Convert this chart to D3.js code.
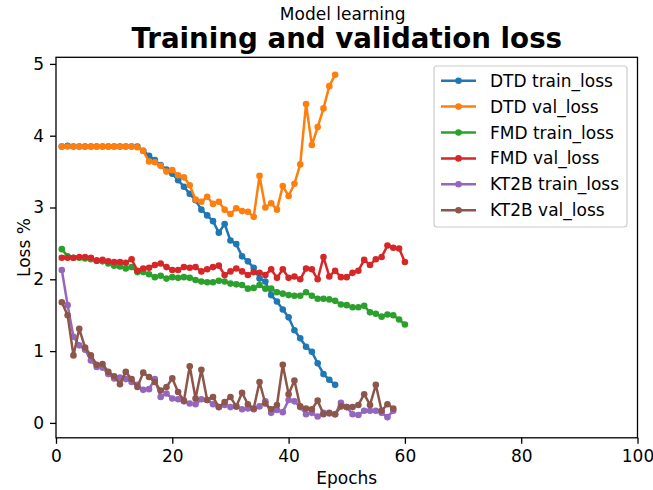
<!DOCTYPE html>
<html>
<head>
<meta charset="utf-8">
<script src="https://cdn.jsdelivr.net/npm/d3@7"></script>
<style>
  html, body { margin: 0; padding: 0; background: #ffffff; }
  svg { display: block; font-family: "DejaVu Sans", sans-serif; }
</style>
</head>
<body>
<svg id="chart" width="653" height="490"></svg>
<script>
// Loss per epoch for each dataset (train / validation)
const dtdTrain = [3.85, 3.86, 3.85, 3.85, 3.85, 3.85, 3.85, 3.85, 3.85, 3.85, 3.85, 3.85, 3.85,
  3.85, 3.79, 3.72, 3.66, 3.59, 3.53, 3.47, 3.38, 3.29, 3.19, 3.10, 2.97, 2.89, 2.81, 2.65,
  2.77, 2.54, 2.49, 2.32, 2.25, 2.16, 2.01, 1.97, 1.78, 1.69, 1.58, 1.47, 1.29, 1.18, 1.06,
  0.99, 0.83, 0.68, 0.60, 0.53];
const dtdVal = [3.85, 3.85, 3.85, 3.85, 3.85, 3.85, 3.85, 3.85, 3.85, 3.85, 3.85, 3.85, 3.85,
  3.84, 3.79, 3.64, 3.63, 3.58, 3.50, 3.52, 3.45, 3.42, 3.31, 3.11, 3.08, 3.15, 3.05, 3.08,
  2.97, 2.91, 2.99, 2.95, 2.94, 2.87, 3.44, 3.00, 3.06, 2.97, 3.30, 3.16, 3.33, 3.60, 4.44,
  3.87, 4.12, 4.38, 4.69, 4.85];
const fmdTrain = [2.42, 2.32, 2.30, 2.30, 2.29, 2.28, 2.26, 2.25, 2.22, 2.19, 2.18, 2.15, 2.17,
  2.10, 2.10, 2.07, 2.03, 2.05, 2.01, 2.03, 2.02, 2.03, 2.02, 1.99, 1.97, 1.96, 1.96, 1.98,
  1.97, 1.94, 1.93, 1.92, 1.87, 1.88, 1.92, 1.87, 1.87, 1.82, 1.80, 1.78, 1.77, 1.77, 1.82,
  1.77, 1.73, 1.73, 1.72, 1.70, 1.65, 1.64, 1.61, 1.61, 1.63, 1.54, 1.52, 1.48, 1.51, 1.50,
  1.44, 1.37];
const fmdVal = [2.30, 2.30, 2.30, 2.31, 2.31, 2.30, 2.26, 2.27, 2.25, 2.24, 2.24, 2.23, 2.28,
  2.12, 2.15, 2.16, 2.20, 2.22, 2.17, 2.13, 2.13, 2.17, 2.16, 2.17, 2.11, 2.14, 2.17, 2.19,
  2.06, 2.11, 2.15, 2.11, 2.06, 2.10, 2.09, 2.06, 2.14, 2.02, 2.14, 2.02, 2.04, 2.00, 2.15,
  2.14, 2.00, 2.31, 2.04, 2.12, 2.03, 2.03, 2.09, 2.12, 2.27, 2.20, 2.28, 2.31, 2.47, 2.44,
  2.43, 2.24];
const kt2bTrain = [2.13, 1.64, 1.20, 1.08, 1.02, 0.87, 0.78, 0.77, 0.68, 0.62, 0.63, 0.61, 0.57,
  0.53, 0.46, 0.47, 0.61, 0.36, 0.41, 0.34, 0.33, 0.30, 0.27, 0.26, 0.33, 0.32, 0.26, 0.22,
  0.25, 0.22, 0.23, 0.19, 0.20, 0.19, 0.23, 0.30, 0.14, 0.18, 0.15, 0.32, 0.30, 0.22, 0.12,
  0.14, 0.09, 0.14, 0.13, 0.12, 0.28, 0.22, 0.12, 0.11, 0.17, 0.17, 0.17, 0.14, 0.08, 0.17];
const kt2bVal = [1.68, 1.50, 0.94, 1.31, 1.05, 0.94, 0.81, 0.82, 0.71, 0.65, 0.54, 0.71, 0.61,
  0.50, 0.70, 0.64, 0.57, 0.45, 0.50, 0.62, 0.43, 0.31, 0.79, 0.34, 0.74, 0.32, 0.36, 0.22,
  0.29, 0.36, 0.23, 0.42, 0.26, 0.20, 0.57, 0.27, 0.19, 0.25, 0.81, 0.40, 0.59, 0.23, 0.20,
  0.19, 0.31, 0.12, 0.14, 0.12, 0.23, 0.22, 0.22, 0.25, 0.40, 0.25, 0.53, 0.17, 0.26, 0.20];

const seriesNames = ["DTD train_loss", "DTD val_loss", "FMD train_loss", "FMD val_loss",
  "KT2B train_loss", "KT2B val_loss"];
const seriesValues = [dtdTrain, dtdVal, fmdTrain, fmdVal, kt2bTrain, kt2bVal];
const seriesColors = ["#1f77b4", "#ff7f0e", "#2ca02c", "#d62728", "#9467bd", "#8c564b"];

const xTicks = [0, 20, 40, 60, 80, 100];
const yTicks = [0, 1, 2, 3, 4, 5];

const suptitleText = "Model learning";
const titleText = "Training and validation loss";
const xLabelText = "Epochs";
const yLabelText = "Loss %";

// Plot geometry
const plot = { left: 56, right: 637.5, top: 57.3, bottom: 437.8 };
const FS = 17;

const svg = d3.select("#chart");

const x = d3.scaleLinear().domain([0, 100]).range([plot.left, plot.right]);
const y = d3.scaleLinear().domain([-0.2075, 5.092]).range([plot.bottom, plot.top]);

// Titles
svg.append("text")
  .attr("x", (plot.left + plot.right) / 2 - 4).attr("y", 19.5)
  .attr("text-anchor", "middle").attr("font-size", FS).attr("fill", "#000")
  .text(suptitleText);
svg.append("text")
  .attr("x", (plot.left + plot.right) / 2).attr("y", 48)
  .attr("text-anchor", "middle").attr("font-size", 27.7).attr("font-weight", "bold")
  .attr("fill", "#000")
  .text(titleText);

// Clip to the axes area
svg.append("defs").append("clipPath").attr("id", "plot-clip")
  .append("rect")
  .attr("x", plot.left).attr("y", plot.top)
  .attr("width", plot.right - plot.left).attr("height", plot.bottom - plot.top);

const lineGen = d3.line()
  .x(d => x(d.epoch))
  .y(d => y(d.value));

const plotLayer = svg.append("g").attr("clip-path", "url(#plot-clip)");

seriesValues.forEach((values, i) => {
  const pts = values.map((v, j) => ({ epoch: j + 1, value: v }));
  const g = plotLayer.append("g");
  g.append("path")
    .datum(pts)
    .attr("d", lineGen)
    .attr("fill", "none")
    .attr("stroke", seriesColors[i])
    .attr("stroke-width", 2.5)
    .attr("stroke-linejoin", "round")
    .attr("stroke-linecap", "square");
  g.selectAll("circle")
    .data(pts)
    .join("circle")
    .attr("cx", d => x(d.epoch))
    .attr("cy", d => y(d.value))
    .attr("r", 3.3)
    .attr("fill", seriesColors[i]);
});

// Axes
const xAxis = d3.axisBottom(x).tickValues(xTicks).tickSize(6).tickPadding(6)
  .tickFormat(d3.format("d"));
const yAxis = d3.axisLeft(y).tickValues(yTicks).tickSize(6).tickPadding(6)
  .tickFormat(d3.format("d"));

const gx = svg.append("g").attr("transform", `translate(0,${plot.bottom})`).call(xAxis);
const gy = svg.append("g").attr("transform", `translate(${plot.left},0)`).call(yAxis);
[gx, gy].forEach(g => {
  g.select(".domain").remove();
  g.selectAll(".tick line").attr("stroke", "#000").attr("stroke-width", 1.3);
  g.selectAll(".tick text").attr("font-size", FS).attr("fill", "#000")
    .attr("font-family", "DejaVu Sans, sans-serif");
});

// Frame around the plotting area
svg.append("rect")
  .attr("x", plot.left).attr("y", plot.top)
  .attr("width", plot.right - plot.left).attr("height", plot.bottom - plot.top)
  .attr("fill", "none").attr("stroke", "#000").attr("stroke-width", 1.3);

// Axis labels
svg.append("text")
  .attr("x", (plot.left + plot.right) / 2).attr("y", 484)
  .attr("text-anchor", "middle").attr("font-size", FS).attr("fill", "#000")
  .text(xLabelText);
svg.append("text")
  .attr("transform", `translate(30,${(plot.top + plot.bottom) / 2}) rotate(-90)`)
  .attr("text-anchor", "middle").attr("font-size", FS).attr("fill", "#000")
  .text(yLabelText);

// Legend
const legend = svg.append("g");
const lg = { x: 434, y: 66, w: 193, h: 161, row: 25.9, first: 80.7 };
legend.append("rect")
  .attr("x", lg.x).attr("y", lg.y).attr("width", lg.w).attr("height", lg.h)
  .attr("rx", 3).attr("ry", 3)
  .attr("fill", "rgba(255,255,255,0.8)").attr("stroke", "#cccccc").attr("stroke-width", 1.2);
seriesNames.forEach((name, i) => {
  const cy = lg.first + i * lg.row;
  legend.append("line")
    .attr("x1", 441).attr("x2", 476).attr("y1", cy).attr("y2", cy)
    .attr("stroke", seriesColors[i]).attr("stroke-width", 2.5);
  legend.append("circle")
    .attr("cx", 458.5).attr("cy", cy).attr("r", 3.3).attr("fill", seriesColors[i]);
  legend.append("text")
    .attr("x", 490).attr("y", cy + 6)
    .attr("font-size", FS).attr("fill", "#000")
    .text(name);
});
</script>
</body>
</html>
